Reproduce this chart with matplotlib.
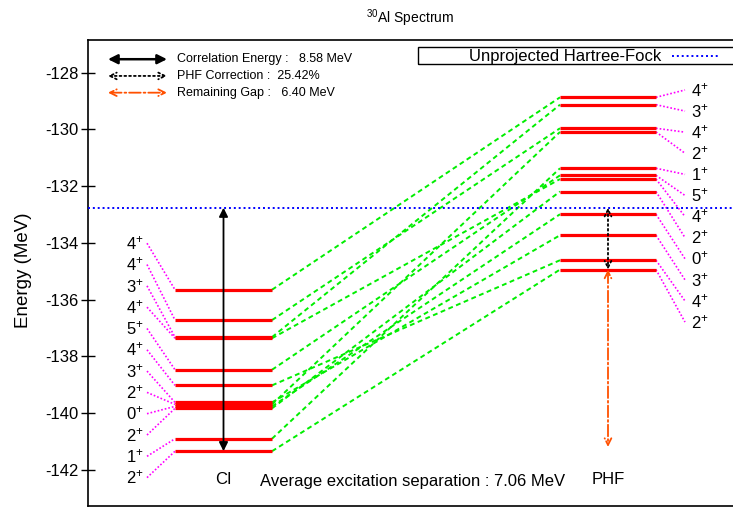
import matplotlib
matplotlib.use('Agg')
import matplotlib.pyplot as plt
from matplotlib.patches import Rectangle
import numpy as np

plt.rcParams['font.family'] = ['Liberation Sans', 'DejaVu Sans']
plt.rcParams['mathtext.fontset'] = 'custom'
plt.rcParams['mathtext.rm'] = 'Liberation Sans'
plt.rcParams['mathtext.it'] = 'Liberation Sans:italic'
plt.rcParams['mathtext.bf'] = 'Liberation Sans:bold'
plt.rcParams['axes.unicode_minus'] = False

# levels, top to bottom
ci_spins = ['4', '4', '3', '4', '5', '4', '3', '2', '0', '2', '1', '2']
ci_energy = [-135.65, -136.72, -137.32, -137.36, -138.47, -139.02,
             -139.62, -139.69, -139.76, -139.83, -140.90, -141.34]
phf_spins = ['4', '3', '4', '2', '1', '5', '4', '2', '0', '3', '4', '2']
phf_energy = [-128.87, -129.13, -129.96, -130.09, -131.37, -131.62,
              -131.75, -132.19, -132.99, -133.73, -134.61, -134.94]
hf_energy = -132.76
corr_energy = 8.58
phf_corr = 25.42
remaining_gap = 6.40
avg_sep = 7.06

RED = '#ff0000'
GREEN = '#00ee00'
MAG = '#ff00ff'
BLUE = '#0000ff'
ORANGE = '#ff5000'

fig = plt.figure(figsize=(7.33, 5.08), dpi=100)
ax = fig.add_axes([88/733, 2.3/508, 645/733, 465.7/508])
ax.set_xlim(88, 733)
ax.set_ylim(-143.26, -126.85)


def E(py):
    # pixel row -> energy
    return -128 - (py - 72.7) / 28.33


# x positions (pixel-like units)
ci_x0, ci_x1 = 175, 272
phf_x0, phf_x1 = 560, 656
ci_mid = (ci_x0 + ci_x1) / 2
phf_mid = (phf_x0 + phf_x1) / 2

# levels
for e in ci_energy:
    ax.plot([ci_x0, ci_x1], [e, e], color=RED, lw=2.3, solid_capstyle='butt', zorder=3)
for e in phf_energy:
    ax.plot([phf_x0, phf_x1], [e, e], color=RED, lw=2.3, solid_capstyle='butt', zorder=3)

# spin labels
left_lab_y = np.linspace(E(243), E(477), len(ci_energy))
right_lab_y = np.linspace(E(90), E(321.7), len(phf_energy))
for s, e, ly in zip(ci_spins, ci_energy, left_lab_y):
    ax.plot([147, ci_x0], [ly, e], color=MAG, lw=1.2, ls=(0, (1, 1.2)))
    ax.text(144, ly, s + r'$^{+}$', ha='right', va='center', fontsize=12)
for s, e, ly in zip(phf_spins, phf_energy, right_lab_y):
    ax.plot([phf_x1, 685], [e, ly], color=MAG, lw=1.2, ls=(0, (1, 1.2)))
    ax.text(691, ly, s + r'$^{+}$', ha='left', va='center', fontsize=12)

# connect same spin states CI -> PHF
for j in set(ci_spins):
    ci_idx = [i for i, s in enumerate(ci_spins) if s == j]
    phf_idx = [i for i, s in enumerate(phf_spins) if s == j]
    for a, b in zip(ci_idx, phf_idx):
        ax.plot([ci_x1, phf_x0], [ci_energy[a], phf_energy[b]], color=GREEN,
                lw=1.4, ls=(0, (2.5, 1.8)), zorder=2)

# unprojected HF
ax.plot([88, 733], [hf_energy, hf_energy], color=BLUE, lw=1.4, ls=(0, (1, 1.5)), zorder=4)

# arrows
ci_ground = min(ci_energy)
phf_ground = min(phf_energy)
ax.annotate('', xy=(ci_mid, ci_ground), xytext=(ci_mid, hf_energy),
            arrowprops=dict(arrowstyle='<|-|>', color='k', lw=1.3, mutation_scale=13,
                            shrinkA=0, shrinkB=0), zorder=5)
ax.annotate('', xy=(phf_mid, phf_ground), xytext=(phf_mid, hf_energy),
            arrowprops=dict(arrowstyle='<->', color='k', lw=1.3, ls=':', mutation_scale=12,
                            shrinkA=0, shrinkB=0), zorder=5)
ax.annotate('', xy=(phf_mid, phf_ground - remaining_gap + 0.15), xytext=(phf_mid, phf_ground),
            arrowprops=dict(arrowstyle='<->', color=ORANGE, lw=1.3, ls='-.', mutation_scale=12,
                            shrinkA=0, shrinkB=0), zorder=5)

# key, top left
key_y = [E(59.3), E(76), E(92.7)]
ax.annotate('', xy=(167, key_y[0]), xytext=(108, key_y[0]),
            arrowprops=dict(arrowstyle='<|-|>', color='k', lw=1.8, mutation_scale=14,
                            shrinkA=0, shrinkB=0))
ax.annotate('', xy=(167, key_y[1]), xytext=(108, key_y[1]),
            arrowprops=dict(arrowstyle='<->', color='k', lw=1.3, ls=':', mutation_scale=12,
                            shrinkA=0, shrinkB=0))
ax.annotate('', xy=(167, key_y[2]), xytext=(108, key_y[2]),
            arrowprops=dict(arrowstyle='<->', color=ORANGE, lw=1.3, ls='-.', mutation_scale=12,
                            shrinkA=0, shrinkB=0))
ax.text(177, key_y[0], 'Correlation Energy :   %.2f MeV' % corr_energy, va='center', fontsize=9)
ax.text(177, key_y[1], 'PHF Correction :  %.2f%%' % phf_corr, va='center', fontsize=9)
ax.text(177, key_y[2], 'Remaining Gap :   %.2f MeV' % remaining_gap, va='center', fontsize=9)

# HF key box, top right
ax.add_patch(Rectangle((418, E(64.5)), 340, E(47.5) - E(64.5), fill=False, lw=1.0,
                       edgecolor='k', clip_on=False))
ax.text(565, E(57), 'Unprojected Hartree-Fock', ha='center', va='center', fontsize=12)
ax.plot([672, 719], [E(56), E(56)], color=BLUE, lw=1.4, ls=(0, (1, 1.5)))

# bottom texts
ax.text(ci_mid, E(479), 'CI', ha='center', va='center', fontsize=12)
ax.text(phf_mid, E(479), 'PHF', ha='center', va='center', fontsize=12)
ax.text(260, E(481), 'Average excitation separation : %.2f MeV' % avg_sep,
        ha='left', va='center', fontsize=12)

# axes cosmetics
ax.set_yticks(np.arange(-142, -127, 2))
ax.set_xticks([])
ax.tick_params(axis='y', direction='inout', length=10, width=1.0, labelsize=12, pad=2)
for side in ['left', 'top', 'bottom']:
    ax.spines[side].set_linewidth(1.2)
ax.spines['right'].set_visible(False)

fig.text(24/733, 1 - 270/508, 'Energy (MeV)', rotation=90, ha='center', va='center', fontsize=13.5)
fig.text(410/733, 1 - 18/508, r'$^{30}$Al Spectrum', ha='center', va='center', fontsize=10)

fig.savefig('out.png', dpi=100)
